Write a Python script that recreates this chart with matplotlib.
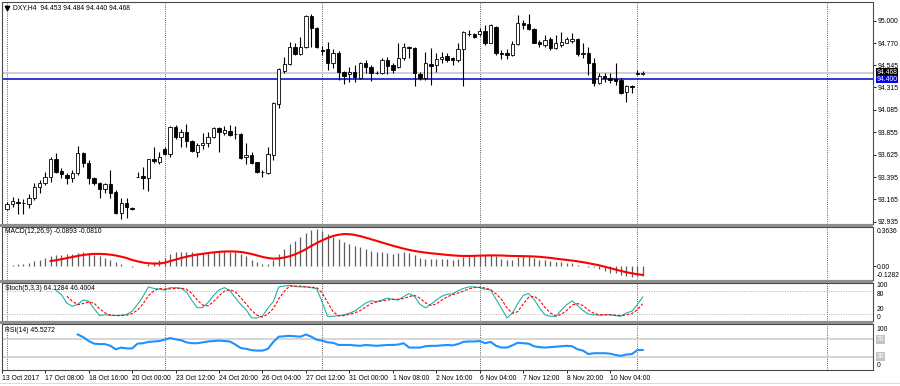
import matplotlib.pyplot as plt
from matplotlib import font_manager
from matplotlib.patches import Rectangle
from matplotlib.lines import Line2D

# pick a narrow sans if one is installed (MT4 labels are narrow)
installed = {f.name for f in font_manager.fontManager.ttflist}
if 'Liberation Sans Narrow' in installed:
    FONT, FS = 'Liberation Sans Narrow', 5.6
else:
    FONT, FS = 'Liberation Sans', 4.9
plt.rcParams['font.family'] = [FONT, 'DejaVu Sans']

# ---- DXY H4 candles, bar 0 = first visible bar ----
opens = [
    93.064, 93.118, 93.139, 93.125, 93.118, 93.176, 93.289, 93.337, 93.398, 93.577,
    93.460, 93.416, 93.382, 93.439, 93.645, 93.542, 93.382, 93.337, 93.275, 93.323,
    93.244, 93.029, 93.125, 93.080, 93.400, 93.408, 93.388, 93.577, 93.552, 93.680,
    93.631, 93.912, 93.809, 93.860, 93.768, 93.655, 93.724, 93.747, 93.803, 93.895,
    93.850, 93.868, 93.834, 93.834, 93.598, 93.621, 93.546, 93.443, 93.433, 93.621,
    94.145, 94.487, 94.556, 94.727, 94.658, 94.727, 95.049, 94.922, 94.695, 94.707,
    94.563, 94.666, 94.477, 94.450, 94.474, 94.409, 94.569, 94.522, 94.466, 94.466,
    94.597, 94.545, 94.522, 94.614, 94.733, 94.717, 94.453, 94.409, 94.556, 94.545,
    94.604, 94.641, 94.614, 94.597, 94.707, 94.864, 94.864, 94.864, 94.898, 94.774,
    94.933, 94.672, 94.666, 94.648, 94.758, 94.980, 94.967, 94.912, 94.785, 94.751,
    94.809, 94.717, 94.751, 94.774, 94.795, 94.809, 94.658, 94.672, 94.569, 94.364,
    94.432, 94.409, 94.399, 94.391, 94.271, 94.330, 94.466, 94.453,
]
highs = [
    93.139, 93.187, 93.176, 93.166, 93.221, 93.330, 93.364, 93.450, 93.598, 93.645,
    93.485, 93.433, 93.467, 93.714, 93.655, 93.570, 93.398, 93.347, 93.337, 93.467,
    93.262, 93.176, 93.176, 93.085, 93.450, 93.501, 93.577, 93.700, 93.655, 93.700,
    93.919, 93.929, 93.885, 93.940, 93.775, 93.741, 93.844, 93.860, 93.906, 93.912,
    93.919, 93.929, 93.919, 93.844, 93.747, 93.655, 93.552, 93.467, 93.700, 94.169,
    94.512, 94.631, 94.785, 94.768, 94.836, 95.059, 95.069, 94.939, 94.741, 94.785,
    94.707, 94.692, 94.487, 94.522, 94.545, 94.579, 94.597, 94.545, 94.487, 94.614,
    94.631, 94.569, 94.774, 94.774, 94.740, 94.727, 94.477, 94.682, 94.717, 94.666,
    94.682, 94.666, 94.631, 94.768, 94.898, 94.905, 94.871, 94.922, 94.956, 94.967,
    94.946, 94.700, 94.707, 94.795, 95.059, 95.008, 95.069, 94.922, 94.802, 94.854,
    94.836, 94.854, 94.887, 94.836, 94.871, 94.820, 94.768, 94.733, 94.614, 94.460,
    94.460, 94.460, 94.569, 94.409, 94.340, 94.337, 94.494, 94.484,
]
lows = [
    93.056, 93.084, 93.015, 93.015, 93.074, 93.159, 93.228, 93.313, 93.347, 93.433,
    93.382, 93.323, 93.347, 93.416, 93.501, 93.323, 93.313, 93.176, 93.234, 93.176,
    93.015, 92.961, 92.971, 93.060, 93.392, 93.269, 93.254, 93.542, 93.529, 93.621,
    93.598, 93.782, 93.706, 93.700, 93.655, 93.598, 93.680, 93.706, 93.793, 93.655,
    93.826, 93.816, 93.782, 93.577, 93.529, 93.529, 93.433, 93.392, 93.426, 93.570,
    94.101, 94.460, 94.545, 94.648, 94.648, 94.717, 94.727, 94.717, 94.648, 94.494,
    94.512, 94.391, 94.350, 94.374, 94.374, 94.399, 94.460, 94.384, 94.450, 94.453,
    94.453, 94.460, 94.512, 94.597, 94.614, 94.330, 94.391, 94.391, 94.340, 94.477,
    94.563, 94.579, 94.545, 94.579, 94.330, 94.843, 94.820, 94.843, 94.751, 94.768,
    94.648, 94.604, 94.604, 94.638, 94.751, 94.912, 94.905, 94.768, 94.727, 94.733,
    94.700, 94.707, 94.733, 94.768, 94.768, 94.638, 94.614, 94.443, 94.330, 94.350,
    94.374, 94.357, 94.340, 94.248, 94.169, 94.261, 94.443, 94.440,
]
closes = [
    93.118, 93.149, 93.125, 93.128, 93.183, 93.289, 93.337, 93.392, 93.580, 93.447,
    93.423, 93.382, 93.439, 93.639, 93.536, 93.382, 93.337, 93.269, 93.323, 93.234,
    93.029, 93.125, 93.090, 93.067, 93.398, 93.382, 93.577, 93.560, 93.604, 93.631,
    93.912, 93.803, 93.860, 93.768, 93.665, 93.724, 93.747, 93.809, 93.895, 93.860,
    93.878, 93.826, 93.834, 93.587, 93.621, 93.542, 93.443, 93.445, 93.631, 94.152,
    94.501, 94.556, 94.727, 94.658, 94.727, 95.049, 94.922, 94.727, 94.692, 94.563,
    94.666, 94.477, 94.432, 94.474, 94.420, 94.569, 94.522, 94.466, 94.468, 94.597,
    94.535, 94.494, 94.614, 94.733, 94.717, 94.460, 94.409, 94.563, 94.535, 94.604,
    94.631, 94.597, 94.597, 94.707, 94.887, 94.866, 94.836, 94.898, 94.768, 94.956,
    94.666, 94.658, 94.648, 94.761, 94.974, 94.956, 94.912, 94.774, 94.761, 94.802,
    94.717, 94.768, 94.785, 94.809, 94.809, 94.658, 94.672, 94.563, 94.364, 94.432,
    94.409, 94.391, 94.384, 94.261, 94.330, 94.316, 94.453, 94.468,
]
bid_price = 94.468
level_price = 94.400
price_ticks = [95.000, 94.770, 94.545, 94.315, 94.085, 93.855, 93.625, 93.395, 93.165, 92.935]

# ---- MACD(12,26,9): main from bar 1 (histogram), signal from bar 8 ----
macd_start = 1
macd_main = [
    0.008, 0.017, 0.023, 0.030, 0.048, 0.060, 0.075, 0.093, 0.105,
    0.108, 0.111, 0.114, 0.124, 0.127, 0.120, 0.108, 0.093, 0.078, 0.060,
    0.038, 0.017, 0.005, -0.004, 0.001, 0.005, 0.023, 0.038, 0.053, 0.075,
    0.114, 0.127, 0.136, 0.136, 0.127, 0.124, 0.124, 0.127, 0.136, 0.139,
    0.139, 0.136, 0.130, 0.114, 0.090, 0.060, 0.038, 0.017, 0.023, 0.060,
    0.114, 0.160, 0.205, 0.236, 0.272, 0.310, 0.340, 0.345, 0.330, 0.300,
    0.275, 0.252, 0.228, 0.206, 0.188, 0.180, 0.160, 0.145, 0.136, 0.130,
    0.121, 0.114, 0.121, 0.127, 0.121, 0.105, 0.078, 0.069, 0.069, 0.069,
    0.069, 0.069, 0.060, 0.069, 0.084, 0.093, 0.099, 0.099, 0.105, 0.108,
    0.090, 0.069, 0.060, 0.060, 0.084, 0.090, 0.090, 0.078, 0.060, 0.053,
    0.048, 0.038, 0.038, 0.033, 0.030, 0.014, 0.002, -0.003, -0.012, -0.025,
    -0.045, -0.060, -0.066, -0.082, -0.092, -0.100, -0.088, -0.0893,
]
signal_start = 8
macd_signal = [
    0.048, 0.055,
    0.065, 0.075, 0.085, 0.095, 0.104, 0.110, 0.114, 0.114, 0.112, 0.107,
    0.099, 0.088, 0.076, 0.058, 0.045, 0.034, 0.027, 0.024, 0.025, 0.032,
    0.047, 0.061, 0.075, 0.088, 0.099, 0.108, 0.115, 0.122, 0.128, 0.133,
    0.136, 0.137, 0.136, 0.132, 0.124, 0.113, 0.100, 0.086, 0.076, 0.070,
    0.072, 0.080, 0.092, 0.110, 0.132, 0.158, 0.188, 0.215, 0.240, 0.262,
    0.280, 0.292, 0.298, 0.297, 0.290, 0.279, 0.265, 0.250, 0.235, 0.220,
    0.205, 0.190, 0.176, 0.163, 0.151, 0.141, 0.133, 0.126, 0.120, 0.115,
    0.110, 0.105, 0.100, 0.097, 0.095, 0.095, 0.096, 0.098, 0.099, 0.100,
    0.100, 0.099, 0.097, 0.095, 0.094, 0.093, 0.092, 0.090, 0.087, 0.082,
    0.077, 0.070, 0.064, 0.058, 0.052, 0.045, 0.037, 0.028, 0.018, 0.008,
    -0.005, -0.018, -0.031, -0.044, -0.056, -0.066, -0.075, -0.081,
]
macd_top, macd_bottom = 0.3636, -0.1282

# ---- Stochastic(5,3,3) ----
stoch_main_start = 9
stoch_main = [
    80,
    70, 48, 40, 45, 56, 53, 34, 16, 18, 17,
    16, 17, 19, 27, 45, 65, 90, 86, 84, 82,
    88, 88, 86, 77, 55, 36, 37, 50, 68, 82,
    88, 80, 62, 45, 31, 10, 10, 15, 35, 52,
    90, 92, 94, 91, 90, 90, 88, 85, 50, 14,
    14, 16, 18, 22, 28, 38, 48, 54, 52, 56,
    61, 58, 56, 65, 73, 65, 45, 36, 45, 56,
    66, 71, 72, 80, 86, 90, 90, 88, 84, 82,
    58, 35, 10, 22, 47, 68, 73, 58, 36, 18,
    14, 14, 30, 44, 54, 42, 29, 20, 18, 17,
    18, 18, 16, 14, 23, 27, 44, 64.1284,
]
stoch_signal_start = 11
stoch_signal = [
    66, 53, 44, 47, 51, 48, 34, 23, 17,
    16, 16, 17, 21, 30, 46, 67, 80, 86, 84,
    85, 86, 87, 84, 73, 56, 43, 41, 52, 67,
    79, 83, 77, 62, 46, 29, 17, 12, 20, 34,
    59, 78, 92, 92, 92, 90, 89, 88, 74, 50,
    26, 15, 16, 19, 23, 29, 38, 47, 51, 54,
    56, 58, 58, 60, 65, 68, 61, 49, 42, 46,
    56, 64, 70, 74, 79, 85, 88, 89, 87, 83,
    72, 58, 36, 22, 26, 46, 63, 66, 56, 37,
    23, 15, 19, 29, 43, 47, 42, 30, 22, 18,
    18, 18, 17, 16, 18, 21, 31, 46.4004,
]

# ---- RSI(14) ----
rsi_start = 13
rsi = [
    81, 75, 66, 60, 59, 59, 55,
    47, 51, 49, 49, 60, 61, 64, 65, 66, 69,
    73, 70, 68, 63, 61, 61, 63, 65, 66, 67,
    66, 65, 58, 50, 48, 45, 44, 44, 48, 64,
    76, 77, 78, 77, 76, 81, 76, 69, 67, 63,
    62, 57, 57, 57, 56, 55, 57, 56, 55, 56,
    57, 57, 58, 61, 51, 51, 51, 54, 55, 55,
    56, 57, 56, 59, 64, 65, 65, 66, 61, 64,
    55, 51, 51, 56, 62, 61, 60, 54, 52, 51,
    52, 53, 54, 55, 54, 47, 44, 36, 38, 38,
    38, 37, 34, 32, 35, 36, 45, 45.5272,
]

# ---- time scale ----
time_labels = ['13 Oct 2017', '17 Oct 08:00', '18 Oct 16:00', '20 Oct 00:00',
               '23 Oct 12:00', '24 Oct 20:00', '26 Oct 04:00', '27 Oct 12:00',
               '31 Oct 00:00', '1 Nov 08:00', '2 Nov 16:00', '6 Nov 04:00',
               '7 Nov 12:00', '8 Nov 20:00', '10 Nov 04:00']
time_pos = [-0.95, 7, 15, 23, 31, 39, 47, 55, 63, 71, 79, 87, 95, 103, 111]
grid_pos = [0, 29, 58, 87, 116, 151]

W, H = 900, 386
fig = plt.figure(figsize=(W / 100, H / 100), dpi=100)


def panel(top, bottom):
    return fig.add_axes([2 / W, 1 - bottom / H, 871 / W, (bottom - top) / H])


ax_p = panel(2, 224)
ax_m = panel(227, 280)
ax_s = panel(283, 321)
ax_r = panel(324, 370)
axes = [ax_p, ax_m, ax_s, ax_r]

# grey separators between sub windows
for t, b in [(224, 227), (280, 283), (321, 324)]:
    fig.add_artist(Rectangle((0, 1 - b / H), 873 / W, (b - t) / H,
                             transform=fig.transFigure, facecolor='#8e8e8e',
                             edgecolor='none'))
fig.add_artist(Line2D([0, 1], [1 - 383 / H] * 2, color='#dcdcdc', lw=0.8))

for ax in axes:
    ax.set_xlim(-0.95, 159.4)
    for sp in ax.spines.values():
        sp.set_color('#4a4a4a')
        sp.set_linewidth(0.8)
    ax.yaxis.tick_right()
    ax.tick_params(axis='x', bottom=False, labelbottom=False)
    ax.tick_params(axis='y', length=2, width=0.6, pad=1, labelsize=FS, colors='black')
    for g in grid_pos:
        ax.axvline(g, color='#2a2a2a', lw=0.6, ls=(0, (1, 1.6)), zorder=0.5)


def rtext(ax, y, s, coords='data', dy=0, va='center', **kw):
    trans = ax.get_yaxis_transform() if coords == 'data' else ax.transAxes
    ax.annotate(s, xy=(1, y), xycoords=trans, xytext=(2.6, dy),
                textcoords='offset points', ha='left', va=va, fontsize=FS,
                annotation_clip=False, **kw)


# ---- price window ----
bars = range(len(opens))
ax_p.vlines(bars, lows, highs, color='black', lw=0.8, zorder=2)
bottoms = [min(o, c) for o, c in zip(opens, closes)]
heights = [abs(c - o) for o, c in zip(opens, closes)]
faces = ['white' if c >= o else 'black' for o, c in zip(opens, closes)]
ax_p.bar(bars, heights, bottom=bottoms, width=0.62, color=faces,
         edgecolor='black', linewidth=0.6, zorder=3)
ax_p.axhline(bid_price, color='#cdcdcd', lw=1.3, zorder=1)
ax_p.axhline(level_price, color='#0000cd', lw=1.1, zorder=1.5)
ax_p.set_ylim(92.913, 95.192)
ax_p.set_yticks(price_ticks)
ax_p.set_yticklabels([f'{v:.3f}' for v in price_ticks])
rtext(ax_p, bid_price, f'{bid_price:.3f}', color='white',
      bbox=dict(boxstyle='square,pad=0.12', fc='black', ec='none'))
rtext(ax_p, level_price, f'{level_price:.3f}', color='white',
      bbox=dict(boxstyle='square,pad=0.12', fc='#0000ee', ec='none'))
fig.add_artist(Line2D([7 / W], [1 - 8 / H], marker='v', markersize=3.2,
                      color='black', transform=fig.transFigure))
fig.text(13 / W, 1 - 7.5 / H, 'DXY,H4  94.453 94.484 94.440 94.468',
         va='center', fontsize=FS)

# ---- MACD window ----
ax_m.vlines(range(macd_start, macd_start + len(macd_main)), 0, macd_main,
            color='#5e5e5e', lw=0.9, zorder=2)
ax_m.plot(range(signal_start, signal_start + len(macd_signal)), macd_signal,
          color='red', lw=1.5, zorder=3)
ax_m.set_ylim(macd_bottom, macd_top)
ax_m.set_yticks([0.0])
ax_m.set_yticklabels(['0.00'])
rtext(ax_m, 1, f'{macd_top:.4f}', coords='axes', dy=-0.5, va='top')
rtext(ax_m, 0, f'{macd_bottom:.4f}', coords='axes', dy=0.8, va='bottom')
fig.text(5 / W, 1 - 231.7 / H, 'MACD(12,26,9) -0.0893 -0.0810',
         va='center', fontsize=FS)

# ---- Stochastic window ----
for lev in (80, 20):
    ax_s.axhline(lev, color='#b4b4b4', lw=0.7, ls=(0, (1, 1.5)), zorder=1)
ax_s.plot(range(stoch_main_start, stoch_main_start + len(stoch_main)), stoch_main,
          color='#20b2aa', lw=0.8, zorder=3)
ax_s.plot(range(stoch_signal_start, stoch_signal_start + len(stoch_signal)),
          stoch_signal, color='red', lw=0.8, ls=(0, (2.5, 1.5)), zorder=3)
ax_s.set_ylim(2, 100)
ax_s.set_yticks([])
# the labels sit tight in pairs, as in the terminal, but without touching
rtext(ax_s, 1, '100', coords='axes', va='top', dy=0.4)
rtext(ax_s, 80, '80', va='top', dy=-0.4)
rtext(ax_s, 20, '20', va='bottom', dy=0.6)
rtext(ax_s, 0, '0', coords='axes', va='bottom', dy=-0.2)
fig.text(5 / W, 1 - 288.3 / H, 'Stoch(5,3,3) 64.1284 46.4004',
         va='center', fontsize=FS)

# ---- RSI window ----
for lev in (70, 30):
    ax_r.axhline(lev, color='#cccccc', lw=1.1, zorder=1)
ax_r.plot(range(rsi_start, rsi_start + len(rsi)), rsi, color='#1e90ff', lw=1.5, zorder=3)
ax_r.set_ylim(-0.6, 105.2)
ax_r.set_yticks([])
rtext(ax_r, 1, '100', coords='axes', va='top', dy=-1.6)
rtext(ax_r, 70, '70', color='white',
      bbox=dict(boxstyle='square,pad=0.12', fc='#c4c4c4', ec='none'))
rtext(ax_r, 30, '30', color='white',
      bbox=dict(boxstyle='square,pad=0.12', fc='#c4c4c4', ec='none'))
rtext(ax_r, 0, '0', coords='axes', va='bottom', dy=0.8)
fig.text(5 / W, 1 - 330 / H, 'RSI(14) 45.5272', va='center', fontsize=FS)

ax_r.set_xticks(time_pos)
ax_r.set_xticklabels(time_labels, ha='left')
ax_r.tick_params(axis='x', bottom=True, labelbottom=True, length=2, width=0.6,
                 pad=1.5, labelsize=FS, colors='black')

fig.savefig('out.png', dpi=100)
